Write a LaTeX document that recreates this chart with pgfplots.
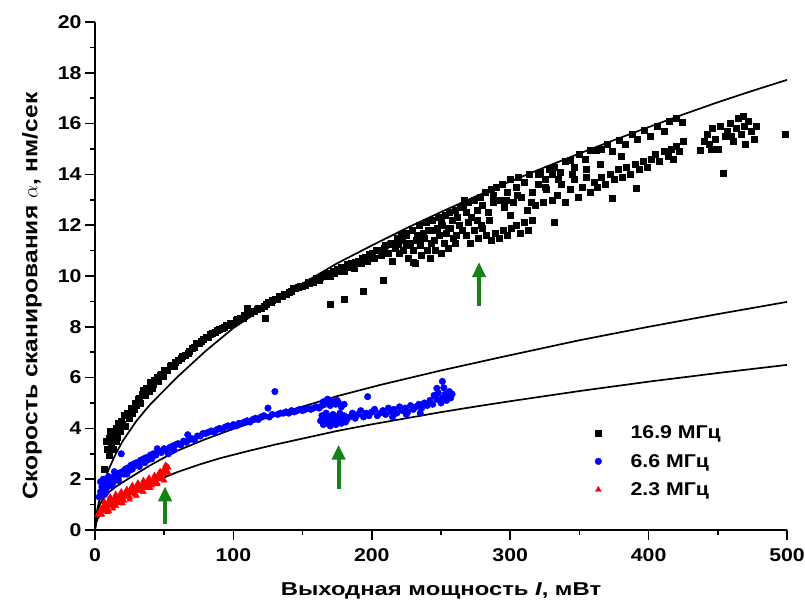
\documentclass[border=0pt]{standalone}
\usepackage{fontspec}
\setmainfont{Liberation Sans}[FakeStretch=1.15]
\newfontfamily\xlabfont{Liberation Sans}[FakeStretch=1.28]
\newfontfamily\ylabfont{Liberation Sans}[FakeStretch=1.17]
\usepackage{pgfplots}
\pgfplotsset{compat=1.18}
\usetikzlibrary{arrows.meta}
\definecolor{arrgreen}{RGB}{20,130,20}
\begin{document}
\begin{tikzpicture}
\begin{axis}[
  scale only axis, width=692pt, height=508pt,
  xmin=0, xmax=500, ymin=0, ymax=20,
  axis x line*=bottom, axis y line*=left,
  axis line style={line width=1.6pt},
  xtick={0,100,...,500}, ytick={0,2,...,20},
  minor x tick num=1, minor y tick num=1,
  tick align=outside,
  major tick length=10pt, minor tick length=5pt,
  tick style={line width=1.6pt, black},
  /pgf/number format/assume math mode=true,
  tick label style={font=\fontsize{18.5}{22}\selectfont\bfseries},
  xticklabel style={yshift=-5pt},
  xlabel={Выходная мощность \textit{I}, мВт},
  ylabel={Скорость сканирования $\alpha$, нм/сек},
  xlabel style={font=\xlabfont\fontsize{18.6}{22}\selectfont\bfseries, at={(axis description cs:0.5,-0.12)}, anchor=center},
  ylabel style={font=\ylabfont\fontsize{21}{24}\selectfont\bfseries, at={(axis description cs:-0.091,0.46)}, anchor=center},
  legend style={at={(axis cs:359,4.27)}, anchor=north west, draw=none, fill=none,
    font=\fontsize{18.5}{22}\selectfont\bfseries, row sep=10pt,
    /tikz/every odd column/.append style={column sep=27pt}},
  legend cell align=left,
  clip=false,
]
% 16.9 MHz
\addplot[only marks, mark=square*, mark size=3pt, black] coordinates {
(7,2.4)(8,3.5)(9,3.2)(10,2.95)(10,3.6)(11,3.9)(12,3.4)(12,3.75)(13,3.2)(14,3.8)(15,4.0)(15,3.5)(16,3.65)(17,4.2)(18,3.9)(19,4.3)(20,4.15)(21,4.5)(22,4.1)(23,4.6)(24,4.55)(25,4.4)(26,4.8)(27,4.6)(28,4.75)(29,5.0)(30,4.9)(31,5.15)(32,5.2)(33,5.0)(34,5.35)(35,5.5)(36,5.3)(37,5.6)(38,5.5)(39,5.45)(40,5.8)(41,5.6)(42,5.75)(43,5.9)(44,5.85)(45,6.0)(46,5.85)(47,6.1)(48,6.15)(49,6.05)(50,6.3)
(52,6.3)(54,6.45)(55,6.5)(57,6.45)(58,6.6)(60,6.7)(62,6.75)(63,6.85)(65,6.9)(67,6.95)(68,7.05)(70,7.15)(72,7.2)(73,7.35)(75,7.35)(77,7.45)(78,7.5)(80,7.6)(82,7.6)(83,7.7)(85,7.75)(87,7.8)(88,7.85)(90,7.9)(92,7.95)(93,8.0)(95,8.05)(97,8.05)(98,8.15)(100,8.15)(102,8.25)(103,8.3)(105,8.35)(107,8.35)(108,8.45)(110,8.5)(110,8.75)(112,8.55)(113,8.6)(115,8.6)(117,8.7)(118,8.75)(120,8.75)(122,8.8)(123,8.35)(124,8.9)(125,8.95)(127,8.95)(128,9.05)(130,9.1)(132,9.1)(133,9.2)(135,9.2)(137,9.3)(138,9.3)(140,9.35)(142,9.4)(143,9.5)(145,9.5)(147,9.55)(148,9.6)(150,9.6)
(152,9.65)(154,9.75)(155,9.7)(157,9.8)(158,9.75)(160,9.9)(162,9.85)(163,9.95)(165,10.0)(167,10.05)(168,10.1)(170,10.0)(170,8.9)(172,10.2)(173,10.1)(175,10.25)(177,10.2)(178,10.35)(180,10.2)(180,9.1)(182,10.45)(183,10.35)(185,10.5)(187,10.3)(188,10.55)(190,10.6)(192,10.5)(193,10.7)(194,9.4)(195,10.75)(197,10.6)(198,10.85)(200,10.9)(202,10.7)(203,11.0)(205,11.0)(207,10.8)(208,9.85)(209,11.1)(210,11.2)(212,10.9)(213,11.25)(214,11.3)(215,10.6)(217,11.1)(218,11.5)(219,11.25)(220,10.9)(221,11.6)(222,11.4)(223,11.0)(224,11.7)(225,11.6)(226,10.7)(227,11.2)(228,11.3)(229,11.8)(230,11.0)(230,10.55)(231,10.5)(232,11.4)(233,11.6)(234,12.0)(235,11.2)(236,10.8)(237,11.7)(238,11.5)(239,12.1)(240,11.0)(241,11.8)(242,10.7)(243,11.3)(244,12.2)(245,11.4)(246,11.0)(247,11.9)(248,12.3)(249,11.6)(250,10.9)(251,12.0)(252,11.3)(253,12.4)(254,11.7)(255,11.1)(256,12.5)(257,11.9)(258,12.2)(259,11.5)(260,12.6)(261,11.6)(262,12.3)(263,12.0)(264,12.7)(265,11.8)(255,11.9)(245,11.8)(235,11.5)(225,11.3)(250,12.1)(260,11.3)
(266,12.8)(268,12.5)(270,12.9)(272,12.3)(274,13.0)(276,12.6)(278,13.1)(280,12.8)(282,13.3)(284,12.5)(286,13.4)(288,12.9)(290,13.5)(292,13.0)(294,13.6)(296,12.7)(298,13.3)(300,13.8)(302,12.9)(304,13.5)(306,13.9)(308,13.1)(310,13.7)(312,12.6)(314,14.0)(316,13.3)(318,12.8)(320,13.6)(322,14.1)(324,12.9)(326,13.4)(328,14.2)(330,13.0)
(268,11.6)(271,11.3)(274,11.8)(277,11.5)(280,11.9)(283,11.6)(286,11.4)(289,11.7)(292,11.5)(295,11.8)(298,11.6)(301,11.9)(304,12.0)(307,11.7)(310,12.1)(313,11.8)(316,12.2)(270,12.1)(276,12.2)(285,12.2)(300,12.4)(332,12.1)
(267,13.0)(279,12.0)(288,13.2)(297,13.0)(305,13.2)(315,12.9)(325,13.8)
(332,14.3)(336,14.1)(340,14.5)(343,14.55)(346,14.3)(350,14.8)(354,14.6)(358,14.95)(362,14.95)(366,15.0)(370,15.2)(374,14.9)(379,15.35)(383,15.2)(388,15.6)(392,15.4)(397,15.75)(401,15.5)(406,15.9)(411,15.7)(415,16.1)(420,16.2)(424,16.05)
(334,13.2)(337,13.6)(340,12.9)(343,13.4)(346,13.8)(349,13.1)(352,13.5)(355,13.9)(358,13.3)(361,13.7)(363,13.5)(366,13.9)(369,13.6)(372,14.0)(374,13.07)(375,13.8)(378,14.2)(381,13.9)(384,14.3)(387,14.0)(390,14.4)(391,13.45)(393,14.2)(396,14.5)(399,14.3)(402,14.6)(405,14.8)(408,14.5)(411,14.9)(414,14.7)(416,15.0)(418,14.6)(420,15.1)(422,14.9)(425,15.3)
(320,14.0)(325,13.5)(330,14.0)(335,13.8)(345,14.0)(355,14.2)(365,14.4)(380,14.7)
(437,14.95)(440,15.3)(442,15.6)(444,15.2)(446,15.8)(448,15.4)(450,15.0)(452,15.9)(454,14.05)(455,15.5)(457,15.7)(459,16.0)(461,15.3)(463,15.8)(465,16.2)(467,15.6)(469,15.9)(470,15.2)(472,16.1)(474,15.7)(476,15.4)(478,15.9)(445,15.0)(460,15.5)(468,16.3)
(498.6,15.6)
};
\addlegendentry{16.9 МГц}
% 6.6 MHz
\addplot[only marks, mark=*, mark size=3.3pt, blue] coordinates {
(3,1.3)(4,1.5)(5,1.4)(5,1.7)(6,1.6)(6,2.0)(7,1.8)(8,1.5)(8,1.9)(9,1.7)(10,1.8)(10,2.1)(11,1.9)(12,2.0)(13,1.85)(14,2.1)(15,2.0)(16,2.2)(17,2.1)(18,2.25)(19,3.0)(20,2.3)(21,2.2)(22,2.4)(24,2.45)(25,2.35)(26,2.55)(28,2.6)(30,2.65)(31,2.55)(33,2.75)(35,2.8)(37,2.85)(38,2.75)(40,2.95)(42,3.0)(44,2.95)(46,3.1)(48,3.05)(50,3.2)(52,3.15)(54,3.25)(56,3.3)(58,3.35)(60,3.4)(62,3.35)(64,3.5)(66,3.45)(67,3.75)(68,3.55)(70,3.6)(72,3.55)(74,3.7)(76,3.7)(78,3.8)(80,3.8)(82,3.85)(84,3.9)(86,3.85)(88,3.95)(90,4.0)(92,3.95)(94,4.05)(96,4.1)(98,4.05)(100,4.15)(102,4.1)(104,4.2)(106,4.2)(108,4.25)(110,4.3)(112,4.25)(114,4.35)(116,4.4)(118,4.35)(120,4.45)(122,4.5)(125,4.8)(126,4.45)(128,4.55)(130,5.45)(132,4.55)(134,4.6)(136,4.6)(138,4.65)(140,4.6)(142,4.7)(144,4.65)(146,4.7)(148,4.75)(150,4.7)(152,4.75)(154,4.8)(156,4.75)(158,4.8)(160,4.85)(162,4.8)(164,4.9)(166,4.95)(168,5.0)(170,4.9)(172,5.05)(174,4.95)(176,5.0)(178,4.9)(180,4.95)
(4,1.9)(7,1.4)(9,2.05)(12,1.75)(14,2.3)(17,1.95)(23,2.2)(27,2.4)(32,2.5)(36,2.65)(41,2.8)(45,3.2)(53,3.0)(57,3.15)
(163,4.3)(164,4.5)(165,4.15)(166,4.4)(167,4.6)(168,4.2)(169,4.45)(170,4.1)(171,4.35)(172,4.55)(173,4.25)(174,4.15)(175,4.45)(176,4.3)(177,4.6)(178,4.2)(179,4.4)(180,4.5)(181,4.25)(182,4.35)
(165,5.05)(168,5.15)(171,5.0)(175,5.1)(178,4.85)
(184,4.45)(186,4.6)(188,4.4)(190,4.55)(192,4.7)(194,4.45)(196,4.6)(197,5.25)(198,4.5)(200,4.65)(202,4.75)(204,4.5)(206,4.6)(208,4.7)(210,4.55)(212,4.8)(214,4.65)(215,4.45)(216,4.75)(218,4.6)(220,4.85)(222,4.7)(224,4.8)(225,4.55)(226,4.65)(228,4.9)(230,4.75)(232,4.85)(234,4.95)(235,4.6)(236,4.8)(238,5.0)(240,4.9)
(242,5.1)(244,4.95)(245,5.3)(247,5.15)(247,5.58)(248,5.4)(250,5.0)(251,5.2)(251,5.85)(252,5.6)(253,5.35)(254,5.1)(255,5.3)(256,5.45)(257,5.2)(258,5.35)
};
\addlegendentry{6.6 МГц}
% 2.3 MHz
\addplot[only marks, mark=triangle*, mark size=3.4pt, red] coordinates {
(2,0.6)(3,0.7)(4,0.8)(4,0.6)(5,0.85)(6,0.75)(6,0.95)(7,0.9)(8,1.0)(8,0.8)(9,1.05)(9,0.7)(10,0.95)(10,1.15)(11,1.1)(12,1.0)(12,1.2)(13,1.15)(13,0.85)(14,1.25)(14,1.05)(15,1.2)(16,1.3)(16,1.1)(17,1.25)(18,1.35)(18,1.15)(19,1.3)(20,1.4)(20,1.2)(21,1.35)(22,1.45)(22,1.3)(23,1.4)(24,1.5)(24,1.35)(25,1.55)(26,1.45)(26,1.6)(27,1.55)(28,1.65)(28,1.5)(29,1.6)(30,1.7)(30,1.55)(31,1.65)(32,1.75)(32,1.6)(33,1.7)(34,1.8)(34,1.65)(35,1.75)(36,1.85)(36,1.7)(37,1.8)(38,1.9)(38,1.75)(39,1.85)(40,1.95)(40,1.8)(41,1.9)(42,2.0)(42,1.85)(43,1.95)(44,2.05)(44,1.9)(45,2.1)(46,2.0)(46,2.2)(47,2.1)(48,2.25)(48,2.05)(49,2.3)(50,2.2)(50,2.4)(51,2.35)(52,2.5)(52,2.3)(53,2.45)
(5,0.6)(7,1.1)(9,0.85)(11,1.3)(13,1.0)(15,1.4)(17,1.05)(19,1.5)(21,1.15)(23,1.6)(25,1.3)(27,1.75)(29,1.4)(31,1.85)(33,1.55)(35,1.95)(37,1.65)(39,2.05)(41,1.75)(43,2.15)(45,1.85)(47,2.3)(49,2.0)(51,2.55)(53,2.25)
(10,0.75)(15,0.95)(20,1.05)(25,1.2)(30,1.35)(35,1.5)(40,1.65)(45,1.8)(50,1.95)
};
\addlegendentry{2.3 МГц}
% fit curves
\addplot[black, line width=1.7pt, forget plot] coordinates {
(0,0)(1,0.6)(2,0.9)(5,1.55)(8,2.1)(10,2.4)(15,3.0)(20,3.5)(30,4.3)(40,4.95)(50,5.5)(60,6.05)(80,7.05)(100,7.95)(125,8.85)(150,9.7)(175,10.5)(200,11.2)(225,11.88)(250,12.52)(275,13.13)(300,13.72)(325,14.28)(350,14.82)(375,15.35)(400,15.86)(425,16.36)(450,16.84)(475,17.29)(500,17.72)};
\addplot[black, line width=1.7pt, forget plot] coordinates {
(0,0)(1,0.5)(3,0.95)(5,1.15)(8.4,1.42)(15,1.7)(25,2.05)(32.5,2.3)(40,2.55)(50,2.85)(60,3.13)(80,3.58)(100,3.98)(125,4.43)(150,4.86)(175,5.27)(206,5.71)(250,6.28)(293,6.8)(350,7.47)(400,8.0)(450,8.5)(500,8.98)};
\addplot[black, line width=1.7pt, forget plot] coordinates {
(0,0)(1,0.3)(2,0.45)(5,0.68)(8.4,0.88)(14,1.08)(20,1.27)(30,1.58)(40,1.84)(50,2.07)(60,2.29)(75,2.57)(90,2.82)(110,3.1)(130,3.36)(150,3.6)(175,3.9)(200,4.16)(225,4.4)(250,4.64)(275,4.86)(300,5.07)(350,5.47)(400,5.84)(450,6.18)(500,6.5)};
% arrows
\addplot[arrgreen, line width=4pt, -{Triangle[length=15pt,width=13pt]}, forget plot] coordinates {(50.6,0.25)(50.6,1.72)};
\addplot[arrgreen, line width=4pt, -{Triangle[length=15pt,width=13pt]}, forget plot] coordinates {(176,1.62)(176,3.36)};
\addplot[arrgreen, line width=4pt, -{Triangle[length=15pt,width=13pt]}, forget plot] coordinates {(277.5,8.8)(277.5,10.55)};
\end{axis}
\pgfresetboundingbox
\path ([shift={(-95pt,-76pt)}]current axis.south west) rectangle ([shift={(18pt,22pt)}]current axis.north east);
\end{tikzpicture}
\end{document}
